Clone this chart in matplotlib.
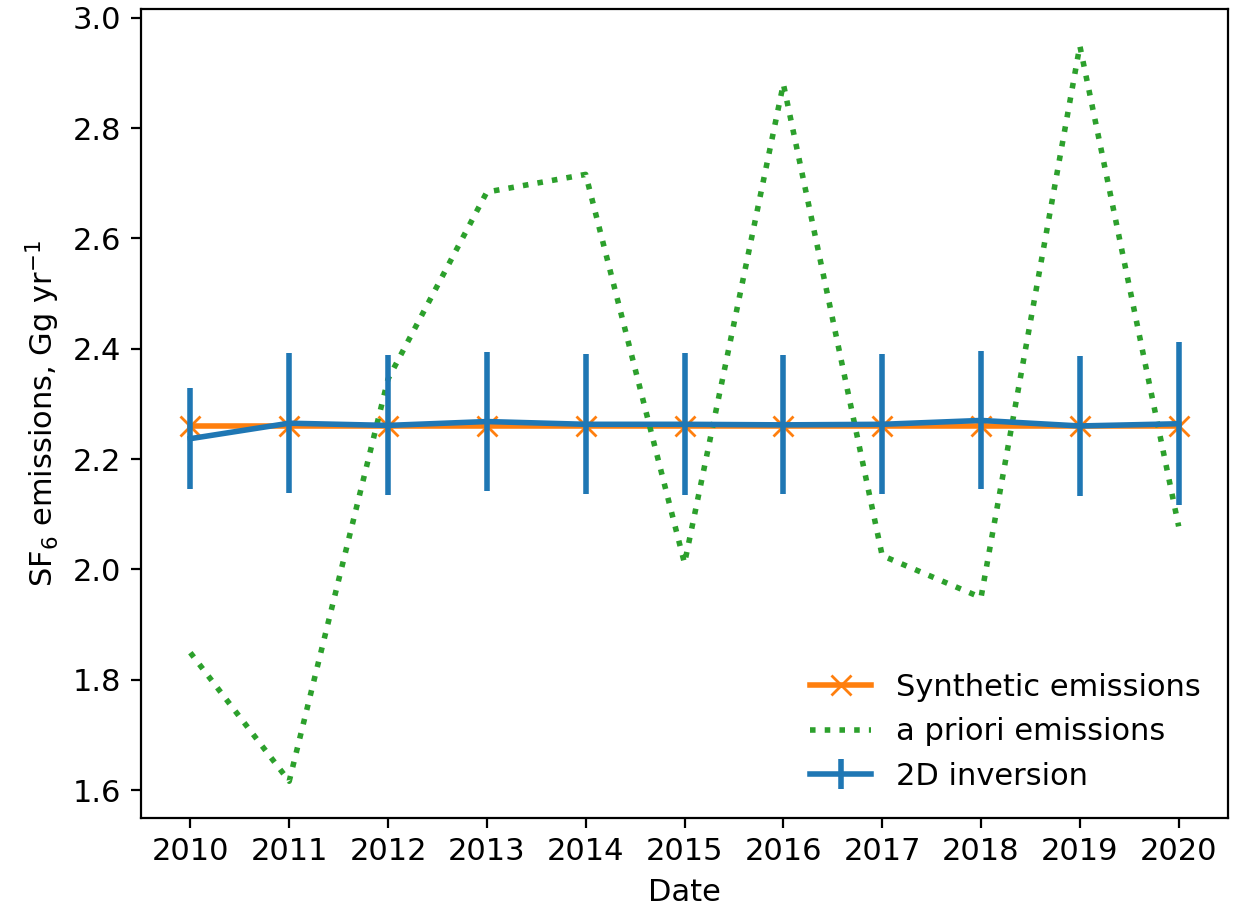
import numpy as np
import matplotlib
matplotlib.use('Agg')
import matplotlib.pyplot as plt

years = [2010, 2011, 2012, 2013, 2014, 2015, 2016, 2017, 2018, 2019, 2020]
synthetic = [2.26, 2.26, 2.26, 2.26, 2.26, 2.26, 2.26, 2.26, 2.26, 2.26, 2.26]
prior = [1.849, 1.616, 2.345, 2.684, 2.716, 2.011, 2.880, 2.025, 1.949, 2.949, 2.078]
inversion = [2.237, 2.265, 2.261, 2.268, 2.263, 2.263, 2.262, 2.263, 2.270, 2.260, 2.264]
inversion_err = [0.091, 0.127, 0.127, 0.126, 0.127, 0.129, 0.126, 0.127, 0.125, 0.127, 0.148]

plt.rcParams['font.size'] = 11

fig = plt.figure(figsize=(6.215, 4.54), dpi=200)
ax = fig.add_subplot(111)
fig.subplots_adjust(left=0.1134, right=0.988, top=0.990, bottom=0.0991)

ax.plot(years, synthetic, color='C1', marker='x', markersize=7, linewidth=2,
        label='Synthetic emissions')
ax.plot(years, prior, color='C2', linestyle=':', linewidth=2,
        label='a priori emissions')
ax.errorbar(years, inversion, yerr=inversion_err, color='C0', linewidth=2,
            elinewidth=2, label='2D inversion')

ax.set_xticks(years)
ax.set_xlabel('Date')
ax.set_ylabel(r'SF$_6$ emissions, Gg yr$^{-1}$')
ax.legend(loc='lower right', frameon=False)

plt.savefig('out.png', dpi=200)
